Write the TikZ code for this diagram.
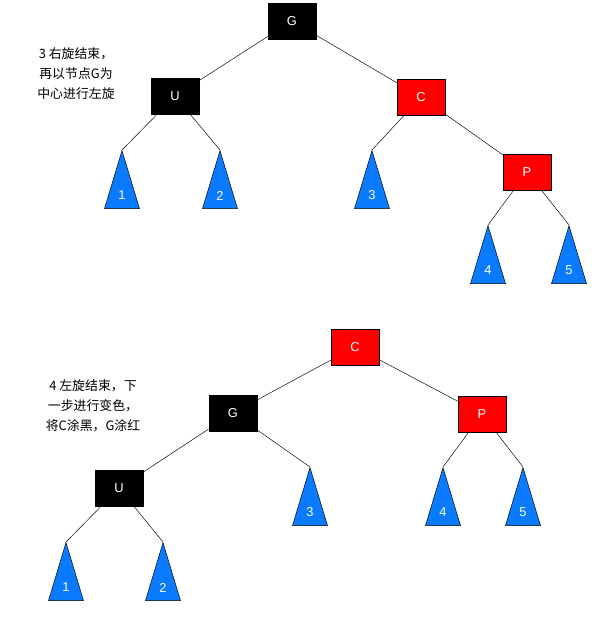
\documentclass[tikz,border=0pt]{standalone}
\usepackage{fontspec}
\setmainfont{Liberation Sans}
\newfontfamily\cjk{Noto Sans CJK SC}
\usetikzlibrary{shapes.geometric}
\definecolor{treeblue}{RGB}{10,122,255}
\tikzset{
  box/.style={draw, minimum width=1.44cm, minimum height=1.08cm, text=white, font=\fontsize{11}{13}\selectfont},
  blk/.style={box, fill=black},
  rd/.style={box, fill=red},
  tri/.style={draw, fill=treeblue, isosceles triangle, shape border rotate=90,
    isosceles triangle stretches, minimum width=1.05cm, minimum height=1.74cm,
    inner sep=0pt, anchor=apex},
  num/.style={text=white, font=\fontsize{11}{13}\selectfont},
  note/.style={align=center, font=\cjk\fontsize{11}{17}\selectfont}
}
\begin{document}
\begin{tikzpicture}[x=0.03cm, y=-0.03cm]
    \useasboundingbox (0,0) rectangle (613,617);
    % upper tree
    \node[blk] (g1) at (292,21) {G};
    \node[blk] (u1) at (175,96) {U};
    \node[rd] (c1) at (421,97) {C};
    \node[rd] (p1) at (527,172) {P};
    \node[tri] (a1) at (122,150) {};
    \node[tri] (a2) at (220,150) {};
    \node[tri] (a3) at (372,150) {};
    \node[tri] (a4) at (488,225) {};
    \node[tri] (a5) at (569,225) {};
    \foreach \t/\n in {a1/1, a2/2, a3/3, a4/4, a5/5}
      \node[num] at ([yshift=0.4cm]\t.south) {\n};
    \draw (g1) -- (u1);
    \draw (g1) -- (c1);
    \draw (c1) -- (p1);
    \draw (u1) -- (a1.apex);
    \draw (u1) -- (a2.apex);
    \draw (c1) -- (a3.apex);
    \draw (p1) -- (a4.apex);
    \draw (p1) -- (a5.apex);
    \node[note] (n1) at (76,74) {3 右旋结束，\\再以节点G为\\中心进行左旋};
    % lower tree
    \node[rd] (c2) at (355,347) {C};
    \node[blk] (g2) at (233,413) {G};
    \node[rd] (p2) at (482,414) {P};
    \node[blk] (u2) at (119,488) {U};
    \node[tri] (b1) at (66,542) {};
    \node[tri] (b2) at (163,542) {};
    \node[tri] (b3) at (310,467) {};
    \node[tri] (b4) at (443,467) {};
    \node[tri] (b5) at (523,467) {};
    \foreach \t/\n in {b1/1, b2/2, b3/3, b4/4, b5/5}
      \node[num] at ([yshift=0.4cm]\t.south) {\n};
    \draw (c2) -- (g2);
    \draw (c2) -- (p2);
    \draw (g2) -- (u2);
    \draw (g2) -- (b3.apex);
    \draw (u2) -- (b1.apex);
    \draw (u2) -- (b2.apex);
    \draw (p2) -- (b4.apex);
    \draw (p2) -- (b5.apex);
    \node[note] (n2) at (93,406) {4 左旋结束，下\\一步进行变色，\\将C涂黑，G涂红};
\end{tikzpicture}
\end{document}
